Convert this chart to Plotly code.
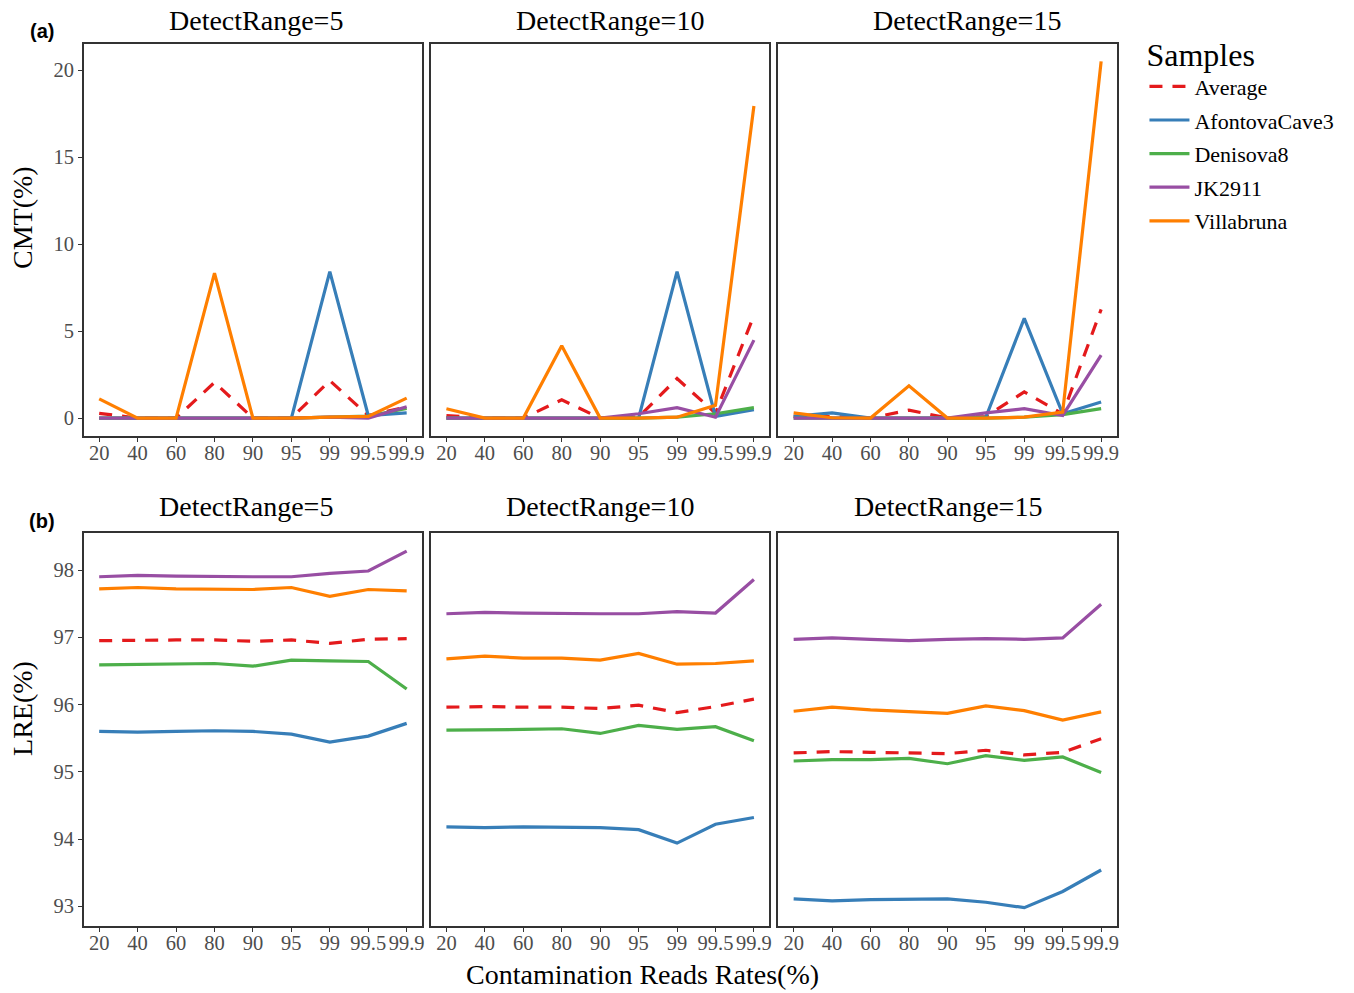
import plotly.graph_objects as go

W, H = 1354, 993

categories = ["20", "40", "60", "80", "90", "95", "99", "99.5", "99.9"]
samples = ["Average", "AfontovaCave3", "Denisova8", "JK2911", "Villabruna"]
detect_ranges = ["DetectRange=5", "DetectRange=10", "DetectRange=15"]

# CMT(%) values, per detect range
cmt_dr5_average = [0.27, 0, 0, 2.05, 0, 0, 2.15, 0.15, 0.64]
cmt_dr5_afontova = [0, 0, 0, 0, 0, 0, 8.42, 0.15, 0.3]
cmt_dr5_denisova = [0, 0, 0, 0, 0, 0, 0.05, 0.12, 0.55]
cmt_dr5_jk2911 = [0, 0, 0, 0, 0, 0, 0.05, 0.0, 0.65]
cmt_dr5_villabruna = [1.1, 0, 0, 8.33, 0, 0, 0.05, 0.1, 1.15]

cmt_dr10_average = [0.14, 0, 0, 1.05, 0, 0.06, 2.27, 0.28, 5.9]
cmt_dr10_afontova = [0, 0, 0, 0, 0, 0, 8.42, 0.1, 0.48]
cmt_dr10_denisova = [0, 0, 0, 0, 0, 0, 0.05, 0.25, 0.6]
cmt_dr10_jk2911 = [0, 0, 0, 0, 0, 0.25, 0.6, 0.05, 4.48]
cmt_dr10_villabruna = [0.54, 0, 0, 4.15, 0, 0, 0.05, 0.73, 17.94]

cmt_dr15_average = [0.1, 0.08, 0, 0.46, 0, 0.09, 1.5, 0.24, 6.25]
cmt_dr15_afontova = [0.1, 0.3, 0, 0, 0, 0.05, 5.73, 0.25, 0.92]
cmt_dr15_denisova = [0, 0, 0, 0, 0, 0, 0.05, 0.2, 0.54]
cmt_dr15_jk2911 = [0, 0, 0, 0, 0, 0.3, 0.54, 0.15, 3.62]
cmt_dr15_villabruna = [0.3, 0.02, 0, 1.85, 0, 0, 0.05, 0.35, 20.5]

# LRE(%) values, per detect range
lre_dr5_average = [96.95, 96.96, 96.96, 96.96, 96.94, 96.96, 96.91, 96.97, 96.98]
lre_dr5_afontova = [95.60, 95.59, 95.60, 95.61, 95.60, 95.56, 95.44, 95.53, 95.72]
lre_dr5_denisova = [96.59, 96.60, 96.61, 96.61, 96.57, 96.66, 96.65, 96.64, 96.23]
lre_dr5_jk2911 = [97.90, 97.92, 97.91, 97.90, 97.90, 97.90, 97.95, 97.985, 98.28]
lre_dr5_villabruna = [97.72, 97.74, 97.72, 97.72, 97.71, 97.74, 97.61, 97.71, 97.69]

lre_dr10_average = [95.96, 95.97, 95.96, 95.96, 95.94, 95.99, 95.88, 95.97, 96.08]
lre_dr10_afontova = [94.18, 94.17, 94.18, 94.17, 94.17, 94.14, 93.94, 94.22, 94.32]
lre_dr10_denisova = [95.62, 95.62, 95.63, 95.64, 95.57, 95.69, 95.63, 95.67, 95.46]
lre_dr10_jk2911 = [97.35, 97.37, 97.36, 97.35, 97.35, 97.35, 97.38, 97.36, 97.86]
lre_dr10_villabruna = [96.68, 96.72, 96.69, 96.69, 96.66, 96.76, 96.60, 96.61, 96.65]

lre_dr15_average = [95.28, 95.30, 95.29, 95.28, 95.27, 95.32, 95.25, 95.29, 95.49]
lre_dr15_afontova = [93.11, 93.08, 93.10, 93.10, 93.11, 93.06, 92.98, 93.22, 93.54]
lre_dr15_denisova = [95.16, 95.18, 95.18, 95.20, 95.12, 95.24, 95.17, 95.22, 94.99]
lre_dr15_jk2911 = [96.97, 96.99, 96.97, 96.95, 96.97, 96.98, 96.97, 96.99, 97.49]
lre_dr15_villabruna = [95.90, 95.96, 95.92, 95.90, 95.87, 95.98, 95.91, 95.77, 95.89]

cmt_ticks = [0, 5, 10, 15, 20]
lre_ticks = [93, 94, 95, 96, 97, 98]

cmt_data = [
    [cmt_dr5_average, cmt_dr5_afontova, cmt_dr5_denisova, cmt_dr5_jk2911, cmt_dr5_villabruna],
    [cmt_dr10_average, cmt_dr10_afontova, cmt_dr10_denisova, cmt_dr10_jk2911, cmt_dr10_villabruna],
    [cmt_dr15_average, cmt_dr15_afontova, cmt_dr15_denisova, cmt_dr15_jk2911, cmt_dr15_villabruna],
]
lre_data = [
    [lre_dr5_average, lre_dr5_afontova, lre_dr5_denisova, lre_dr5_jk2911, lre_dr5_villabruna],
    [lre_dr10_average, lre_dr10_afontova, lre_dr10_denisova, lre_dr10_jk2911, lre_dr10_villabruna],
    [lre_dr15_average, lre_dr15_afontova, lre_dr15_denisova, lre_dr15_jk2911, lre_dr15_villabruna],
]

colors = {"Average": "#E41A1C", "AfontovaCave3": "#377EB8", "Denisova8": "#4DAF4A",
          "JK2911": "#984EA3", "Villabruna": "#FF7F00"}

SERIF = "Liberation Serif, Times New Roman, serif"
SANS = "Liberation Sans, Arial, sans-serif"
AXC = "#333333"
TICKC = "#4D4D4D"

def px_x(p):
    return p / W

def px_y(p):
    return 1 - p / H

panel_x = [(84, 423), (432, 771), (780, 1119)]
row_y = [(44, 436), (533.3, 926)]
row_range = [[-1.03, 21.5], [92.707, 98.546]]
row_ticks = [cmt_ticks, lre_ticks]

fig = go.Figure()
layout = {}
for r in range(2):
    data = cmt_data if r == 0 else lre_data
    for p in range(3):
        idx = r * 3 + p + 1
        xa = "xaxis" if idx == 1 else f"xaxis{idx}"
        ya = "yaxis" if idx == 1 else f"yaxis{idx}"
        xref = "x" if idx == 1 else f"x{idx}"
        yref = "y" if idx == 1 else f"y{idx}"
        for si, s in enumerate(samples):
            fig.add_trace(go.Scatter(
                x=categories, y=data[p][si], mode="lines", name=s,
                legendgroup=s, showlegend=(idx == 1),
                line=dict(color=colors[s], width=3.2,
                          dash="13px,10px" if s == "Average" else "solid"),
                xaxis=xref, yaxis=yref, hoverinfo="skip"))
        layout[xa] = dict(
            domain=[px_x(panel_x[p][0]), px_x(panel_x[p][1])], anchor=yref,
            type="category", categoryorder="array", categoryarray=categories,
            range=[-0.4, 8.4], showgrid=False, zeroline=False,
            showline=True, mirror=True, linecolor=AXC, linewidth=1.5,
            ticks="outside", ticklen=4, tickwidth=1.2, tickcolor=AXC, tickangle=0,
            ticklabelstandoff=-6,
            tickfont=dict(family=SERIF, size=20.5, color=TICKC))
        layout[ya] = dict(
            domain=[px_y(row_y[r][1]), px_y(row_y[r][0])], anchor=xref,
            range=row_range[r], tickvals=row_ticks[r], showgrid=False, zeroline=False,
            showline=True, mirror=True, linecolor=AXC, linewidth=1.5,
            ticks="outside" if p == 0 else "", ticklen=4, tickwidth=1.2, tickcolor=AXC,
            showticklabels=(p == 0),
            tickfont=dict(family=SERIF, size=20.5, color=TICKC))

annotations = []
strip_top = [257, 611, 969]
strip_bot = [247, 601, 950]
for p in range(3):
    annotations.append(dict(text=detect_ranges[p], x=px_x(strip_top[p]), y=px_y(20),
                            xref="paper", yref="paper", showarrow=False,
                            xanchor="center", yanchor="middle",
                            font=dict(family=SERIF, size=28, color="#000000")))
    annotations.append(dict(text=detect_ranges[p], x=px_x(strip_bot[p]), y=px_y(506),
                            xref="paper", yref="paper", showarrow=False,
                            xanchor="center", yanchor="middle",
                            font=dict(family=SERIF, size=28, color="#000000")))
annotations += [
    dict(text="CMT(%)", x=px_x(22), y=px_y(217), xref="paper", yref="paper",
         showarrow=False, textangle=-90, xanchor="center", yanchor="middle",
         font=dict(family=SERIF, size=28, color="#000000")),
    dict(text="LRE(%)", x=px_x(22), y=px_y(708), xref="paper", yref="paper",
         showarrow=False, textangle=-90, xanchor="center", yanchor="middle",
         font=dict(family=SERIF, size=28, color="#000000")),
    dict(text="Contamination Reads Rates(%)", x=px_x(644), y=px_y(974), xref="paper",
         yref="paper", showarrow=False, xanchor="center", yanchor="middle",
         font=dict(family=SERIF, size=28, color="#000000")),
    dict(text="<b>(a)</b>", x=px_x(42), y=px_y(31), xref="paper", yref="paper",
         showarrow=False, xanchor="center", yanchor="middle",
         font=dict(family=SANS, size=20, color="#000000")),
    dict(text="<b>(b)</b>", x=px_x(42), y=px_y(521), xref="paper", yref="paper",
         showarrow=False, xanchor="center", yanchor="middle",
         font=dict(family=SANS, size=20, color="#000000")),
]

fig.update_layout(
    width=W, height=H,
    margin=dict(l=0, r=0, t=0, b=0),
    paper_bgcolor="white", plot_bgcolor="white",
    showlegend=True,
    legend=dict(x=px_x(1147), y=px_y(24), xanchor="left", yanchor="top",
                title=dict(text="Samples", font=dict(family=SERIF, size=32, color="#000000")),
                font=dict(family=SERIF, size=22, color="#000000"),
                bgcolor="rgba(0,0,0,0)", tracegroupgap=2, itemwidth=40),
    annotations=annotations,
    **layout,
)

fig.write_html("out.html", config={"displayModeBar": False},
               post_script="document.body.style.margin='0px';")
